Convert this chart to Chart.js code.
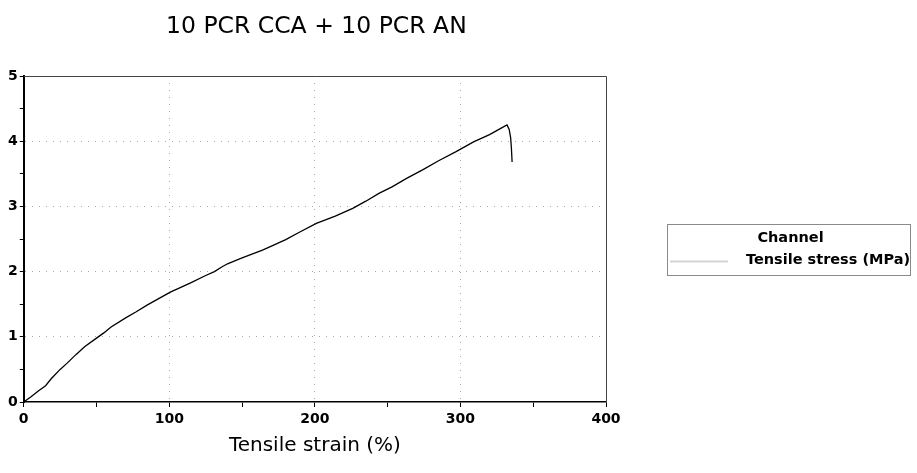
<!DOCTYPE html>
<html>
<head>
<meta charset="utf-8">
<script src="https://cdn.jsdelivr.net/npm/chart.js@4/dist/chart.umd.min.js"></script>
<style>
html,body{margin:0;padding:0;background:#fff;}
#wrap{width:917px;height:473px;position:relative;}
</style>
</head>
<body>
<div id="wrap"><canvas id="c" width="917" height="473"></canvas></div>
<script>
const chartTitle = "10 PCR CCA + 10 PCR AN";
const xAxisTitle = "Tensile strain (%)";
const legendTitle = "Channel";
const seriesName = "Tensile stress (MPa)";

const strain = [0, 5, 10, 15, 19, 25, 30, 36, 42, 50, 55, 60, 70, 77, 85, 93, 101, 106, 115, 125, 131, 136, 140, 150, 164, 169, 180, 189, 201, 214, 226, 235, 244, 253, 263, 274, 285, 297, 309, 320, 328, 332, 333.5, 334.5, 335, 335.5];
const stress = [0, 0.08, 0.17, 0.25, 0.36, 0.50, 0.60, 0.73, 0.85, 0.98, 1.06, 1.15, 1.29, 1.38, 1.49, 1.59, 1.69, 1.74, 1.83, 1.94, 2.00, 2.07, 2.12, 2.21, 2.33, 2.38, 2.49, 2.60, 2.74, 2.85, 2.97, 3.08, 3.20, 3.30, 3.43, 3.56, 3.70, 3.84, 3.99, 4.10, 4.20, 4.25, 4.18, 4.05, 3.90, 3.68];

const xTicks = [0, 100, 200, 300, 400];
const yTicks = [0, 1, 2, 3, 4, 5];

const points = strain.map((s, i) => ({x: s, y: stress[i]}));

const titleCenterPlugin = {
  id: 'titleCenter',
  afterLayout(chart) {
    const t = chart.titleBlock, a = chart.chartArea;
    if (t) {
      const w = t.right - t.left;
      const c = (a.left + a.right) / 2 + 1.5;
      t.left = c - w / 2;
      t.right = c + w / 2;
    }
  }
};

const framePlugin = {
  id: 'frame',
  afterDraw(chart) {
    const ctx = chart.ctx, a = chart.chartArea;
    ctx.save();
    ctx.strokeStyle = '#444';
    ctx.lineWidth = 1;
    ctx.beginPath();
    ctx.moveTo(a.left, a.top + 0.5);
    ctx.lineTo(a.right + 0.5, a.top + 0.5);
    ctx.lineTo(a.right + 0.5, a.bottom);
    ctx.stroke();
    ctx.restore();
  }
};

const boxLegendPlugin = {
  id: 'boxLegend',
  afterDraw(chart) {
    const ctx = chart.ctx, a = chart.chartArea;
    const ds = chart.data.datasets[0];
    const left = a.right + 61, right = chart.width - 7;
    const top = 224, bottom = 275;
    ctx.save();
    ctx.strokeStyle = '#8a8a8a';
    ctx.lineWidth = 1;
    ctx.strokeRect(left + 0.5, top + 0.5, right - left, bottom - top);
    ctx.fillStyle = '#000';
    ctx.font = 'bold 14.5px "DejaVu Sans"';
    ctx.textBaseline = 'middle';
    ctx.textAlign = 'center';
    ctx.fillText(legendTitle, left + 123.5, top + 14);
    ctx.strokeStyle = '#d4d4d4';
    ctx.lineWidth = 2;
    ctx.beginPath();
    ctx.moveTo(left + 3, top + 37.5);
    ctx.lineTo(left + 61, top + 37.5);
    ctx.stroke();
    ctx.textAlign = 'left';
    ctx.fillText(ds.label, left + 79, top + 36);
    ctx.restore();
  }
};

new Chart(document.getElementById('c'), {
  type: 'line',
  data: {
    datasets: [{
      label: seriesName,
      data: points,
      borderColor: '#000',
      backgroundColor: '#cfcfcf',
      borderWidth: 1.3,
      pointRadius: 0,
      tension: 0
    }]
  },
  options: {
    responsive: false,
    animation: false,
    layout: {padding: {left: 6, right: 311, top: 10, bottom: 11.6}},
    plugins: {
      title: {
        display: true,
        text: chartTitle,
        color: '#000',
        font: {family: 'DejaVu Sans', size: 23.5, weight: 'normal'},
        padding: {top: 2.9, bottom: 34.9}
      },
      legend: {display: false},
      tooltip: {enabled: false}
    },
    scales: {
      x: {
        type: 'linear',
        min: 0, max: 400,
        title: {
          display: true,
          text: xAxisTitle,
          color: '#000',
          font: {family: 'DejaVu Sans', size: 20, weight: 'normal'},
          padding: {top: 1.6}
        },
        ticks: {
          stepSize: 50,
          color: '#000',
          font: {family: 'DejaVu Sans', size: 14, weight: 'bold'},
          padding: 4,
          maxRotation: 0,
          callback: v => xTicks.includes(v) ? String(v) : ''
        },
        border: {color: '#000', width: 1.5, dash: [1, 6]},
        grid: {
          drawTicks: true,
          tickLength: 5,
          tickColor: '#000',
          color: ctx => (ctx.tick && [100, 200, 300].includes(ctx.tick.value)) ? '#a8a8a8' : 'rgba(0,0,0,0)',
          lineWidth: 1
        }
      },
      y: {
        type: 'linear',
        min: 0, max: 5,
        ticks: {
          stepSize: 0.5,
          color: '#000',
          font: {family: 'DejaVu Sans', size: 14, weight: 'bold'},
          padding: 2,
          callback: v => yTicks.includes(v) ? String(v) : ''
        },
        border: {color: '#000', width: 2, dash: [1, 6]},
        grid: {
          drawTicks: true,
          tickLength: 4,
          tickColor: '#000',
          color: ctx => (ctx.tick && [1, 2, 3, 4].includes(ctx.tick.value)) ? '#a8a8a8' : 'rgba(0,0,0,0)',
          lineWidth: 1
        }
      }
    }
  },
  plugins: [titleCenterPlugin, framePlugin, boxLegendPlugin]
});
</script>
</body>
</html>
